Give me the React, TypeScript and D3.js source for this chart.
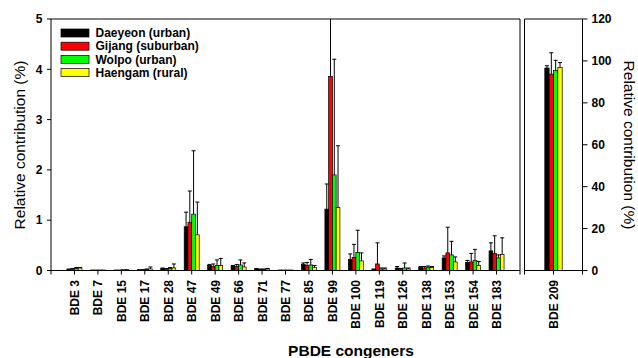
import React from "react";
import * as d3 from "d3";

const categories = ["BDE 3","BDE 7","BDE 15","BDE 17","BDE 28","BDE 47","BDE 49","BDE 66","BDE 71","BDE 77","BDE 85","BDE 99","BDE 100","BDE 119","BDE 126","BDE 138","BDE 153","BDE 154","BDE 183"];
const seriesNames = ["Daeyeon (urban)", "Gijang (suburban)", "Wolpo (urban)", "Haengam (rural)"];
const seriesColors = ["#000000", "#ff0000", "#00ff00", "#ffff00"];

const daeyeon = [0.02,0.005,0.005,0.01,0.04,0.87,0.1,0.09,0.03,0.005,0.12,1.22,0.22,0.02,0.05,0.06,0.25,0.16,0.39];
const gijang = [0.03,0.005,0.005,0.01,0.03,0.96,0.08,0.08,0.02,0.005,0.1,3.86,0.26,0.13,0.03,0.05,0.35,0.17,0.34];
const wolpo = [0.04,0.005,0.01,0.02,0.04,1.12,0.1,0.11,0.02,0.005,0.11,1.9,0.36,0.03,0.05,0.06,0.31,0.2,0.25];
const haengam = [0.05,0.005,0.01,0.03,0.05,0.71,0.1,0.07,0.03,0.005,0.06,1.25,0.19,0.03,0.03,0.06,0.17,0.1,0.32];

const daeyeonSD = [0.01,0.001,0.001,0.005,0.01,0.29,0.02,0.01,0.01,0.001,0.03,0.5,0.11,0.01,0.03,0.02,0.04,0.04,0.16];
const gijangSD = [0.01,0.001,0.001,0.005,0.01,0.62,0.05,0.04,0.01,0.001,0.06,1.6,0.26,0.42,0.01,0.03,0.51,0.17,0.35];
const wolpoSD = [0.02,0.001,0.002,0.01,0.02,1.26,0.11,0.1,0.01,0.001,0.11,2.3,0.44,0.02,0.1,0.03,0.27,0.22,0.06];
const haengamSD = [0.01,0.001,0.002,0.04,0.08,0.65,0.14,0.08,0.01,0.001,0.04,1.23,0.16,0.02,0.02,0.02,0.1,0.08,0.33];

const bde209Category = ["BDE 209"];
const bde209Values = [96.6, 93.7, 95.4, 96.9];
const bde209SD = [1.1, 10.2, 4.9, 2.3];

const leftTicks = [0, 1, 2, 3, 4, 5];
const rightTicks = [0, 20, 40, 60, 80, 100, 120];

const FONT = "'Liberation Sans', Arial, sans-serif";

export default function App() {
  const top = 19;
  const base = 270.5;
  const lx0 = 51, lx1 = 520;
  const rx0 = 524.5, rx1 = 582.5;

  const yL = d3.scaleLinear().domain([0, 5]).range([base, top]);
  const yR = d3.scaleLinear().domain([0, 120]).range([base, top]);

  const xL = d3.scaleBand<string>().domain(categories).range([lx0, lx1]).paddingInner(0.36).paddingOuter(0.68);
  const xR = d3.scaleBand<string>().domain(bde209Category).range([rx0, rx1]).paddingInner(0).paddingOuter(1.167);

  const subL = d3.scaleBand<number>().domain([0, 1, 2, 3]).range([0, xL.bandwidth()]);
  const subR = d3.scaleBand<number>().domain([0, 1, 2, 3]).range([0, xR.bandwidth()]);

  const leftVals = [daeyeon, gijang, wolpo, haengam];
  const leftSD = [daeyeonSD, gijangSD, wolpoSD, haengamSD];

  const bars: React.ReactNode[] = [];
  const errs: React.ReactNode[] = [];
  categories.forEach((c, i) => {
    leftVals.forEach((vals, s) => {
      const x = (xL(c) as number) + (subL(s) as number);
      const w = subL.bandwidth();
      const v = vals[i];
      const y = yL(v);
      bars.push(<rect key={`b${i}-${s}`} x={x} y={y} width={w} height={base - y} fill={seriesColors[s]} stroke="#000" strokeWidth={0.7} />);
      const cx = x + w / 2;
      const ye = yL(v + leftSD[s][i]);
      errs.push(
        <g key={`e${i}-${s}`} stroke="#000" strokeWidth={1}>
          <line x1={cx} x2={cx} y1={y} y2={ye} />
          <line x1={cx - 2} x2={cx + 2} y1={ye} y2={ye} />
        </g>
      );
    });
  });

  const barsR: React.ReactNode[] = [];
  bde209Values.forEach((v, s) => {
    const x = (xR("BDE 209") as number) + (subR(s) as number);
    const w = subR.bandwidth();
    const y = yR(v);
    barsR.push(<rect key={`r${s}`} x={x} y={y} width={w} height={base - y} fill={seriesColors[s]} stroke="#000" strokeWidth={0.7} />);
    const cx = x + w / 2;
    const ye = yR(v + bde209SD[s]);
    barsR.push(
      <g key={`re${s}`} stroke="#000" strokeWidth={1}>
        <line x1={cx} x2={cx} y1={y} y2={ye} />
        <line x1={cx - 2} x2={cx + 2} y1={ye} y2={ye} />
      </g>
    );
  });

  return (
    <svg width={638} height={358} style={{ position: "absolute", left: 0, top: 0, background: "#fff" }} fontFamily={FONT}>
      <defs>
        <clipPath id="clipL"><rect x={lx0} y={top} width={lx1 - lx0} height={base - top + 1} /></clipPath>
      </defs>
      <g clipPath="url(#clipL)">
        {bars}
        {errs}
      </g>
      {barsR}

      <g stroke="#000" strokeWidth={1} fill="none">
        <line x1={lx0} x2={lx0} y1={top} y2={base + 4} />
        <line x1={lx0} x2={lx1} y1={top} y2={top} />
        <line x1={lx1} x2={lx1} y1={top} y2={base + 4} />
        <line x1={lx0} x2={lx1} y1={base} y2={base} />
        <line x1={rx0} x2={rx0} y1={top} y2={base + 4} />
        <line x1={rx0} x2={rx1} y1={top} y2={top} />
        <line x1={rx1} x2={rx1} y1={top} y2={base + 4} />
        <line x1={rx0} x2={rx1} y1={base} y2={base} />
      </g>

      {leftTicks.map((t) => (
        <g key={`lt${t}`}>
          <line x1={lx0 - 4} x2={lx0} y1={yL(t)} y2={yL(t)} stroke="#000" />
          <text x={lx0 - 8.5} y={yL(t)} dy="0.35em" textAnchor="end" fontSize={12} fontWeight="bold">{t}</text>
        </g>
      ))}
      {rightTicks.map((t) => (
        <g key={`rt${t}`}>
          <line x1={rx1} x2={rx1 + 5} y1={yR(t)} y2={yR(t)} stroke="#000" />
          <text x={rx1 + 9} y={yR(t)} dy="0.35em" textAnchor="start" fontSize={12} fontWeight="bold">{t}</text>
        </g>
      ))}

      {categories.map((c) => {
        const cx = (xL(c) as number) + xL.bandwidth() / 2;
        return (
          <g key={`xt${c}`}>
            <line x1={cx} x2={cx} y1={base} y2={base + 4} stroke="#000" />
            <text transform={`translate(${cx + 4.5},${280}) rotate(-90)`} textAnchor="end" fontSize={12} fontWeight="bold">{c}</text>
          </g>
        );
      })}
      {bde209Category.map((c) => {
        const cx = (xR(c) as number) + xR.bandwidth() / 2;
        return (
          <g key={`xr${c}`}>
            <line x1={cx} x2={cx} y1={base} y2={base + 4} stroke="#000" />
            <text transform={`translate(${cx + 4.5},${280}) rotate(-90)`} textAnchor="end" fontSize={12} fontWeight="bold">{c}</text>
          </g>
        );
      })}

      {seriesNames.map((n, i) => {
        const cy = 33 + 13.2 * i;
        return (
          <g key={`lg${i}`}>
            <rect x={61} y={cy - 4} width={28} height={8} fill={seriesColors[i]} stroke="#000" strokeWidth={0.7} />
            <text x={95.5} y={cy} dy="0.35em" fontSize={12} fontWeight="bold">{n}</text>
          </g>
        );
      })}

      <text transform={`translate(25,${145}) rotate(-90)`} textAnchor="middle" fontSize={15.5}>Relative contribution (%)</text>
      <text transform={`translate(623.5,${145}) rotate(90)`} textAnchor="middle" fontSize={15.5}>Relative contribution (%)</text>
      <text x={351} y={356} textAnchor="middle" fontSize={15.5} fontWeight="bold">PBDE congeners</text>
    </svg>
  );
}
